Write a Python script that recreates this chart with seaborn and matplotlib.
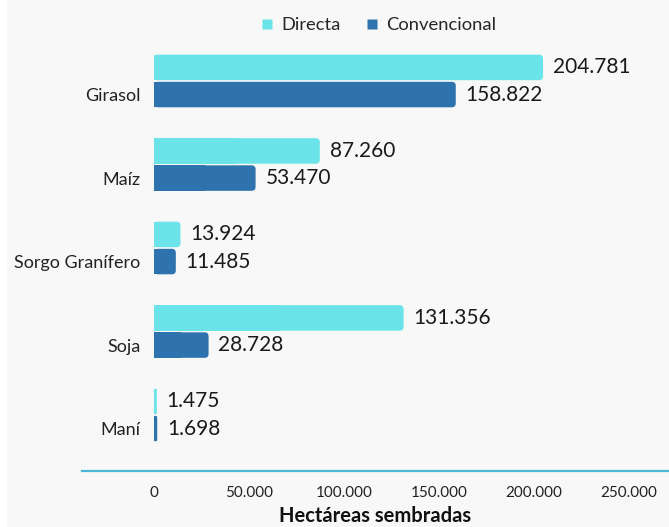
import pandas as pd
import matplotlib.pyplot as plt
import seaborn as sns
from matplotlib.patches import FancyBboxPatch, Rectangle
from matplotlib.lines import Line2D
from matplotlib.ticker import FuncFormatter

cultivos = ["Girasol", "Maíz", "Sorgo Granífero", "Soja", "Maní"]
directa = [204781, 87260, 13924, 131356, 1475]
convencional = [158822, 53470, 11485, 28728, 1698]
series = ["Directa", "Convencional"]
colores = ["#6ae4e8", "#2e73ad"]
xticks = [0, 50000, 100000, 150000, 200000, 250000]


def miles(v):
    return f"{int(round(v)):,}".replace(",", ".")


df = pd.DataFrame({
    "cultivo": cultivos * 2,
    "serie": [series[0]] * len(cultivos) + [series[1]] * len(cultivos),
    "ha": directa + convencional,
})

sns.set_theme(style="white")
plt.rcParams["font.family"] = ["Lato", "DejaVu Sans"]

fig = plt.figure(figsize=(6.69, 5.27), dpi=100, facecolor="white")
# fondo gris con esquina redondeada
fig.patches.append(FancyBboxPatch((7 / 669, -0.2), 1.2, 1.4,
                                  boxstyle="round,pad=0,rounding_size=0.07",
                                  transform=fig.transFigure, facecolor="#f8f8f8",
                                  edgecolor="none", zorder=-10,
                                  mutation_aspect=669 / 527))

ax = fig.add_axes([82 / 669, 1 - 471 / 527, 1 - 82 / 669, (471 - 52) / 527])
ax.set_facecolor("none")

sns.barplot(data=df, y="cultivo", x="ha", hue="serie", palette=colores,
            orient="h", width=0.65, gap=0.06, ax=ax, legend=False,
            saturation=1)

# 0 en x=154px, escala 526.3 ha/px
xpp = 250000 / 475
ax.set_xlim(-72 * xpp, (669 - 154) * xpp)
ypp = 1 / 83.5
ax.set_ylim((471 - 81) * ypp, (52 - 81) * ypp)

# barras con borde derecho redondeado
for cont in ax.containers:
    for rect in cont:
        x, y = rect.get_xy()
        w, h = rect.get_width(), rect.get_height()
        fc = rect.get_facecolor()
        r = min(4 * xpp, w / 2)
        ax.add_patch(FancyBboxPatch((x, y), w, h,
                                    boxstyle=f"round,pad=0,rounding_size={r}",
                                    mutation_aspect=ypp / xpp,
                                    facecolor=fc, edgecolor="none", zorder=2))
        ax.add_patch(Rectangle((x, y), w / 2, h, facecolor=fc,
                               edgecolor="none", zorder=2))
        rect.set_visible(False)
    ax.bar_label(cont, labels=[miles(v) for v in cont.datavalues],
                 padding=7, fontsize=15, color="#1a1a1a")

# etiqueta de cultivo alineada con la barra convencional
ax.set_yticks([i + 0.1625 for i in range(len(cultivos))], cultivos)

ax.set_xticks(xticks)
ax.xaxis.set_major_formatter(FuncFormatter(lambda v, p: miles(v)))
ax.tick_params(axis="x", length=0, pad=11, labelsize=11, labelcolor="#222222")
ax.tick_params(axis="y", length=0, pad=-42, labelsize=13, labelcolor="#222222")
ax.set_ylabel("")
ax.set_xlabel("Hectáreas sembradas", fontsize=14.5, fontweight="bold",
              color="#111111", labelpad=4)

for s in ["top", "right", "left"]:
    ax.spines[s].set_visible(False)
ax.spines["bottom"].set_color("#4cb6d6")
ax.spines["bottom"].set_linewidth(1.6)

handles = [Line2D([], [], marker="s", linestyle="none", markersize=7,
                  markerfacecolor=c, markeredgecolor="none") for c in colores]
fig.legend(handles, series, loc="center", bbox_to_anchor=(377 / 669, 1 - 25 / 527),
           ncol=2, frameon=False, fontsize=13.2, handletextpad=0.3,
           columnspacing=1.2, handlelength=1.0)

fig.savefig("out.png", dpi=100, facecolor=fig.get_facecolor())
